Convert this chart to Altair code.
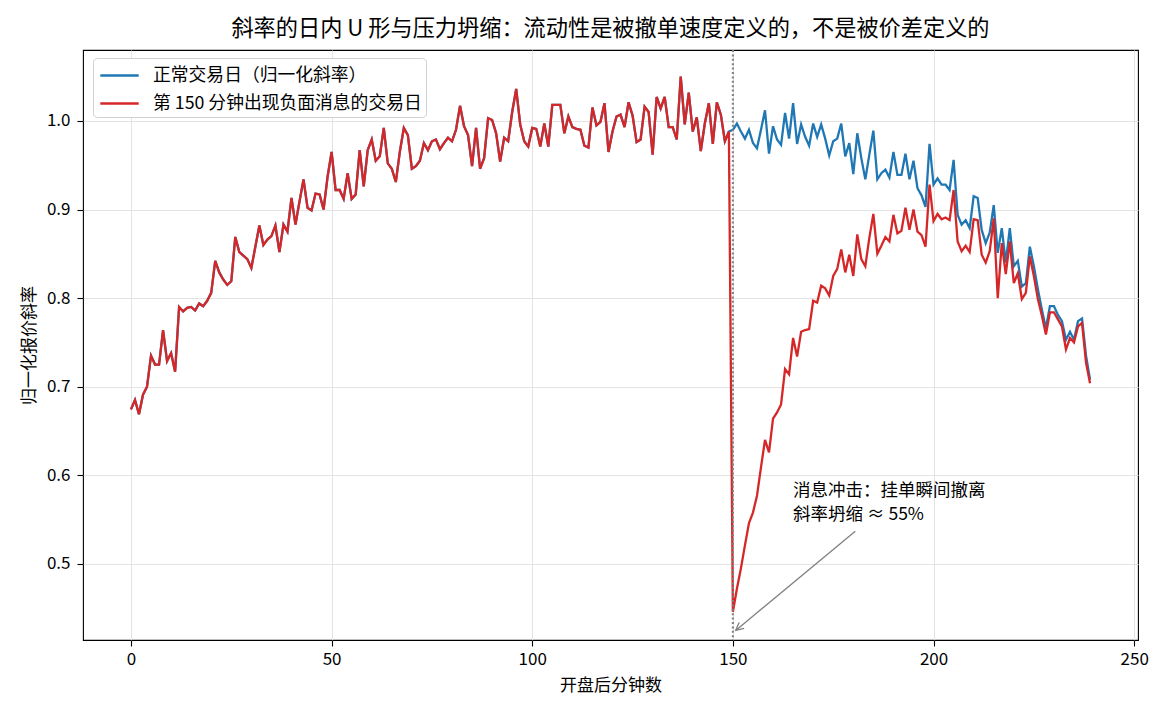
import altair as alt
import pandas as pd

FONT = "Noto Sans CJK SC"

# minutes after open (0..239)
minutes = list(range(240))

# shared path of both series before the news (minutes 0..149)
pre_news = [
    0.6745, 0.685, 0.669, 0.691, 0.700, 0.735, 0.725, 0.725, 0.764, 0.729,
    0.738, 0.717, 0.790, 0.785, 0.789, 0.790, 0.786, 0.794, 0.791, 0.797,
    0.806, 0.842, 0.829, 0.821, 0.815, 0.819, 0.869, 0.852, 0.848, 0.844,
    0.834, 0.858, 0.882, 0.860, 0.866, 0.870, 0.882, 0.852, 0.883, 0.875,
    0.913, 0.883, 0.909, 0.934, 0.902, 0.899, 0.918, 0.917, 0.900, 0.937,
    0.965, 0.922, 0.922, 0.912, 0.941, 0.912, 0.917, 0.967, 0.926, 0.967,
    0.979, 0.955, 0.960, 0.992, 0.952, 0.946, 0.931, 0.965, 0.992, 0.984,
    0.946, 0.949, 0.955, 0.975, 0.967, 0.977, 0.979, 0.968, 0.975, 0.981,
    0.977, 0.990, 1.017, 0.994, 0.984, 0.949, 0.992, 0.946, 0.958, 1.003,
    1.001, 0.986, 0.954, 0.981, 0.977, 1.010, 1.036, 0.996, 0.977, 0.971,
    0.992, 0.991, 0.971, 0.997, 0.971, 1.018, 1.018, 1.018, 0.986, 1.005,
    0.993, 0.991, 0.990, 0.972, 0.970, 1.015, 0.995, 0.999, 1.020, 0.965,
    0.988, 1.005, 1.007, 0.993, 1.021, 1.006, 0.976, 0.979, 1.016, 1.010,
    0.962, 1.027, 1.014, 1.027, 0.993, 0.993, 0.979, 1.050, 0.996, 1.032,
    0.988, 1.004, 0.966, 0.997, 1.020, 0.974, 1.021, 1.007, 0.977, 0.988,
]

# normal day, minutes 150..239
normal_post = [
    0.990, 0.997, 0.988, 0.980, 0.990, 0.975, 0.969, 0.990, 1.012, 0.963,
    0.994, 0.979, 0.973, 1.009, 0.980, 1.020, 0.974, 0.996, 0.982, 0.972,
    0.997, 0.982, 0.996, 0.980, 0.961, 0.977, 0.980, 0.997, 0.960, 0.975,
    0.940, 0.986, 0.958, 0.934, 0.962, 0.989, 0.934, 0.941, 0.945, 0.936,
    0.965, 0.939, 0.939, 0.963, 0.934, 0.955, 0.924, 0.916, 0.903, 0.974,
    0.928, 0.935, 0.928, 0.928, 0.922, 0.956, 0.894, 0.883, 0.888, 0.879,
    0.915, 0.913, 0.877, 0.862, 0.874, 0.905, 0.851, 0.879, 0.840, 0.879,
    0.836, 0.842, 0.813, 0.817, 0.858, 0.836, 0.810, 0.787, 0.766, 0.791,
    0.791, 0.781, 0.774, 0.753, 0.762, 0.753, 0.774, 0.777, 0.735, 0.708,
]

# news day, minutes 150..239
shock_post = [
    0.446, 0.472, 0.495, 0.521, 0.546, 0.558, 0.577, 0.609, 0.640, 0.626,
    0.664, 0.671, 0.680, 0.720, 0.714, 0.755, 0.734, 0.762, 0.764, 0.765,
    0.797, 0.795, 0.814, 0.811, 0.803, 0.825, 0.833, 0.855, 0.829, 0.849,
    0.825, 0.872, 0.844, 0.836, 0.868, 0.895, 0.850, 0.859, 0.869, 0.864,
    0.894, 0.873, 0.876, 0.902, 0.877, 0.900, 0.875, 0.871, 0.858, 0.928,
    0.887, 0.895, 0.889, 0.891, 0.888, 0.922, 0.864, 0.853, 0.859, 0.852,
    0.889, 0.888, 0.849, 0.840, 0.853, 0.890, 0.800, 0.862, 0.827, 0.864,
    0.817, 0.828, 0.799, 0.806, 0.847, 0.825, 0.799, 0.780, 0.759, 0.784,
    0.784, 0.776, 0.768, 0.742, 0.755, 0.750, 0.768, 0.772, 0.727, 0.704,
]

normal = pre_news + normal_post
shock = pre_news + shock_post

series_names = ["正常交易日（归一化斜率）", "第 150 分钟出现负面消息的交易日"]
series_colors = ["#1f77b4", "#d62728"]

x_ticks = [0, 50, 100, 150, 200, 250]
y_ticks = [0.5, 0.6, 0.7, 0.8, 0.9, 1.0]

news_minute = [150]
arrow_x = [180.5, 150.7]
arrow_y = [0.537, 0.425]
note_lines = ["消息冲击：挂单瞬间撤离", "斜率坍缩 ≈ 55%"]
note_x = [165.0, 165.0]
note_y = [0.5763, 0.550]

title_text = "斜率的日内 U 形与压力坍缩：流动性是被撤单速度定义的，不是被价差定义的"

df = pd.DataFrame({
    "minute": minutes + minutes,
    "slope": normal + shock,
    "series": [series_names[0]] * 240 + [series_names[1]] * 240,
})

x_enc = alt.X(
    "minute:Q",
    scale=alt.Scale(domain=[-11.95, 250.95], nice=False, zero=False),
    axis=alt.Axis(values=x_ticks, title="开盘后分钟数", format="d",
                  labelPadding=5, titlePadding=10),
)
y_enc = alt.Y(
    "slope:Q",
    scale=alt.Scale(domain=[0.4142, 1.080], nice=False, zero=False),
    axis=alt.Axis(values=y_ticks, title="归一化报价斜率", format=".1f",
                  labelPadding=7, titlePadding=8),
)
color_enc = alt.Color(
    "series:N",
    scale=alt.Scale(domain=series_names, range=series_colors),
    legend=alt.Legend(title=None, orient="none", legendX=10, legendY=8),
)

base = alt.Chart(df)
blue = base.transform_filter(alt.datum.series == series_names[0]).mark_line(
    strokeWidth=2.3).encode(x=x_enc, y=y_enc, color=color_enc)
red = base.transform_filter(alt.datum.series == series_names[1]).mark_line(
    strokeWidth=2.3).encode(x=x_enc, y=y_enc, color=color_enc)

rule = alt.Chart(pd.DataFrame({"minute": news_minute})).mark_rule(
    color="#808080", strokeDash=[2, 2.4], strokeWidth=2.1
).encode(x="minute:Q")

arrow_df = pd.DataFrame({"minute": arrow_x, "slope": arrow_y})
arrow_line = alt.Chart(arrow_df).mark_line(color="#808080", strokeWidth=1.3).encode(
    x="minute:Q", y="slope:Q")
arrow_head = alt.Chart(arrow_df.iloc[[1]]).mark_point(
    shape="M-1,-0.5L0,0L-1,0.5", size=240, angle=140, filled=False,
    stroke="#808080", strokeWidth=1.3, opacity=1
).encode(x="minute:Q", y="slope:Q")

note_df = pd.DataFrame({"minute": note_x, "slope": note_y, "text": note_lines})
note = alt.Chart(note_df).mark_text(
    align="left", baseline="alphabetic", font=FONT, fontSize=17.5, color="black"
).encode(x="minute:Q", y="slope:Q", text="text:N")

chart = alt.layer(blue, red, rule, arrow_line, arrow_head, note).properties(
    width=1055,
    height=590,
    title=alt.TitleParams(text=title_text, font=FONT, fontSize=22.2,
                          fontWeight="normal", anchor="middle", offset=9,
                          color="black"),
    padding={"left": 83, "top": 50, "right": 32, "bottom": 75},
    autosize=alt.AutoSizeParams(type="none"),
).configure_view(
    stroke="black", strokeWidth=1.1
).configure_axis(
    domain=False, tickColor="black", tickSize=6, tickWidth=1.1,
    labelFont=FONT, labelFontSize=17, labelColor="black",
    titleFont=FONT, titleFontSize=17, titleFontWeight="normal", titleColor="black",
    gridColor="#e3e3e3", gridWidth=1,
).configure_legend(
    fillColor="white", strokeColor="#d0d0d0", strokeWidth=1, cornerRadius=4,
    padding=4, labelFont=FONT, labelFontSize=17.8, labelColor="black",
    labelLimit=500,
    symbolType="M-1.6,0L1.6,0", symbolSize=576, symbolStrokeWidth=2.3,
    symbolOffset=9, labelOffset=20, rowPadding=5,
)

chart.save("out.html", embed_options={"renderer": "svg", "actions": False})
